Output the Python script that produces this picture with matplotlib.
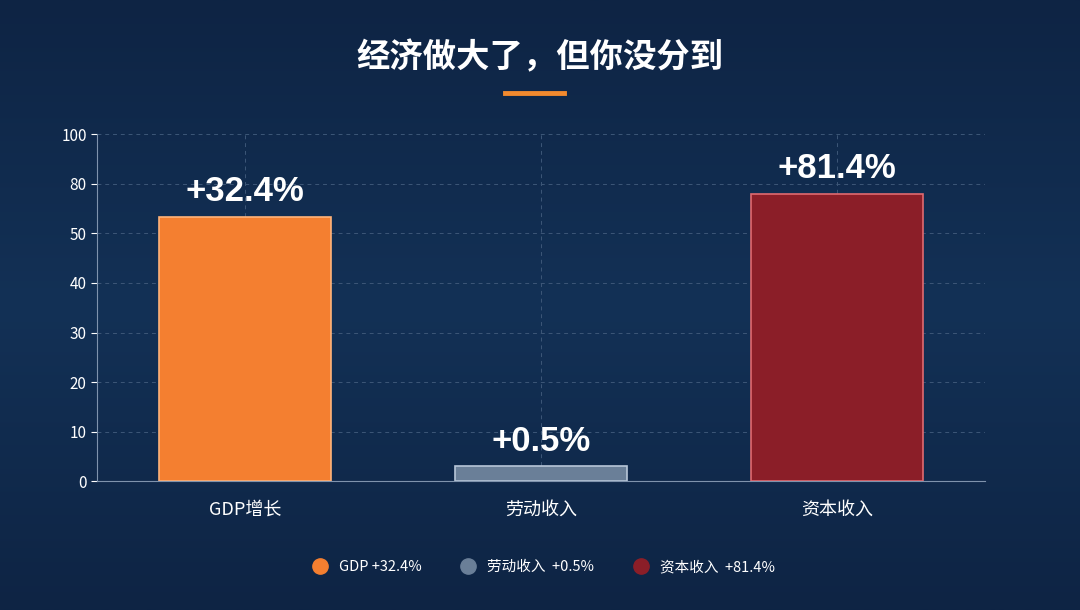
import matplotlib
matplotlib.use("Agg")
import matplotlib.pyplot as plt
import numpy as np

plt.rcParams["font.family"] = ["Noto Sans CJK SC", "DejaVu Sans"]

categories = ["GDP增长", "劳动收入", "资本收入"]
bar_values = [60, 3, 74]          # bar height on the axis's own (uneven) scale
bar_labels = ["+32.4%", "+0.5%", "+81.4%"]
legend_labels = ["GDP +32.4%", "劳动收入  +0.5%", "资本收入  +81.4%"]
tick_values = [0, 10, 20, 30, 40, 50, 80, 100]
colors = ["#f47f30", "#6a7f98", "#8b1e28"]
edge_colors = ["#ffb37a", "#b8c6d8", "#e06a70"]

tick_pos = np.arange(len(tick_values))


def fwd(v):
    return np.interp(v, tick_values, tick_pos)


def inv(p):
    return np.interp(p, tick_pos, tick_values)


fig = plt.figure(figsize=(10.8, 6.1), dpi=100)
fig.patch.set_facecolor("#10294a")
bg = fig.add_axes([0, 0, 1, 1], zorder=-1)
grad = np.linspace(0, 1, 256).reshape(-1, 1)
bg.imshow(grad, aspect="auto", cmap=matplotlib.colors.LinearSegmentedColormap.from_list(
    "bg", ["#0e2444", "#133156", "#0e2444"]), extent=[0, 1, 0, 1])
bg.axis("off")

fig.text(0.5, 0.905, "经济做大了，但你没分到", ha="center", va="center",
         fontsize=24, fontweight="bold", color="white")
fig.add_artist(plt.Line2D([0.468, 0.522], [0.847, 0.847], color="#f28a2e", lw=3.5))

ax = fig.add_axes([0.09, 0.211, 0.822, 0.569])
ax.set_facecolor("none")
ax.set_yscale("function", functions=(fwd, inv))
ax.set_ylim(0, 100)
ax.set_yticks(tick_values)
ax.set_yticklabels([str(t) for t in tick_values])
x = np.arange(len(categories))
ax.set_xlim(-0.5, 2.5)
bars = ax.bar(x, bar_values, width=0.58, color=colors, edgecolor=edge_colors, linewidth=1.2)
for b, lab in zip(bars, bar_labels):
    ax.text(b.get_x() + b.get_width() / 2, inv(fwd(b.get_height()) + 0.17), lab,
            ha="center", va="bottom", fontsize=25, fontweight="bold", color="white",
            family=["Liberation Sans", "DejaVu Sans"])
ax.set_xticks(x)
ax.set_xticklabels(categories, fontsize=13, color="white")
ax.tick_params(axis="y", colors="white", labelsize=11, length=4)
ax.tick_params(axis="x", colors="white", length=0, pad=14)
ax.grid(True, color="#3d5778", linestyle=(0, (4, 4)), linewidth=0.7)
ax.set_axisbelow(True)
for s in ["top", "right"]:
    ax.spines[s].set_visible(False)
for s in ["left", "bottom"]:
    ax.spines[s].set_color("#7f93ad")

handles = [plt.Line2D([], [], marker="o", ls="", markersize=11, color=c) for c in colors]
fig.legend(handles, legend_labels, loc="center", bbox_to_anchor=(0.5, 0.07), ncol=3,
           frameon=False, fontsize=10.5, labelcolor="white", handletextpad=0.3, columnspacing=2.2)

fig.savefig("out.png", dpi=100, facecolor=fig.get_facecolor())
